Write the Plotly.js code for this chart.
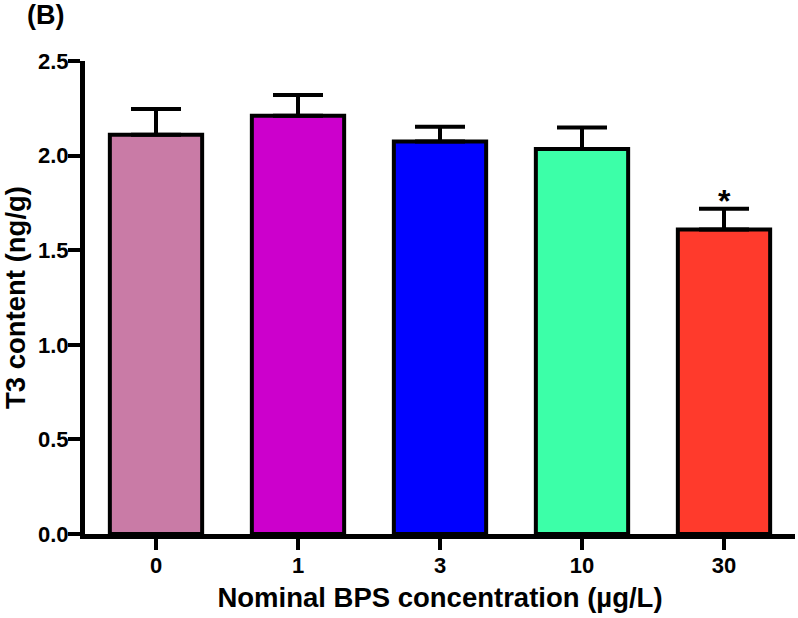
<!DOCTYPE html>
<html>
<head>
<meta charset="utf-8">
<script src="https://cdn.plot.ly/plotly-3.0.1.min.js"></script>
<style>html,body{margin:0;padding:0;background:#fff;}#chart{width:798px;height:618px;}</style>
</head>
<body>
<div id="chart"></div>
<script>
const categories = ["0", "1", "3", "10", "30"];
const t3Means = [2.11, 2.21, 2.075, 2.035, 1.61];
const t3Errors = [0.136, 0.11, 0.078, 0.113, 0.109];
const barColors = ["#C97BA6", "#CC00CC", "#0000FF", "#3CFFA8", "#FF3A2C"];
const significance = ["", "", "", "", "*"];

const FONT = "Liberation Sans, Arial, Helvetica, sans-serif";

const trace = {
  type: "bar",
  x: categories,
  y: t3Means,
  width: 0.65,
  marker: { color: barColors, line: { color: "#000", width: 4 } },
  error_y: {
    type: "data", array: t3Errors, arrayminus: t3Errors.map(() => 0),
    symmetric: false, color: "#000", thickness: 4, width: 25
  },
  hoverinfo: "none"
};

const annotations = [];
categories.forEach((c, i) => {
  if (significance[i]) {
    annotations.push({
      x: i, y: t3Means[i] + t3Errors[i], xref: "x", yref: "y",
      text: significance[i], showarrow: false, yanchor: "bottom", yshift: -12,
      font: { family: FONT, size: 32, color: "#000", weight: "bold" }
    });
  }
});
annotations.push({
  x: -0.0845, y: 1.097, xref: "paper", yref: "paper", xanchor: "left", yanchor: "middle",
  text: "(B)", showarrow: false,
  font: { family: FONT, size: 27, color: "#000", weight: "bold" }
});

const layout = {
  width: 798, height: 618,
  margin: { l: 85, r: 3, t: 61, b: 84 },
  paper_bgcolor: "#fff", plot_bgcolor: "#fff",
  showlegend: false,
  font: { family: FONT, color: "#000", weight: "bold" },
  xaxis: {
    type: "category", range: [-0.5, 4.5],
    showline: true, linecolor: "#000", linewidth: 5,
    ticks: "outside", ticklen: 11, tickwidth: 4, tickcolor: "#000",
    ticklabelstandoff: -3,
    showgrid: false, zeroline: false,
    tickfont: { family: FONT, size: 22, color: "#000", weight: "bold" },
    title: { text: "Nominal BPS concentration (µg/L)", standoff: 12,
      font: { family: FONT, size: 27.5, color: "#000", weight: "bold" } }
  },
  yaxis: {
    range: [0, 2.5], tickvals: [0, 0.5, 1.0, 1.5, 2.0, 2.5],
    ticktext: ["0.0", "0.5", "1.0", "1.5", "2.0", "2.5"],
    showline: true, linecolor: "#000", linewidth: 5,
    ticks: "outside", ticklen: 12, tickwidth: 4, tickcolor: "#000",
    ticklabelstandoff: -5,
    showgrid: false, zeroline: false,
    tickfont: { family: FONT, size: 22, color: "#000", weight: "bold" },
    title: { text: "T3 content (ng/g)", standoff: 11,
      font: { family: FONT, size: 27.5, color: "#000", weight: "bold" } }
  },
  annotations: annotations
};

Plotly.newPlot("chart", [trace], layout, { displayModeBar: false, staticPlot: true });
</script>
</body>
</html>
